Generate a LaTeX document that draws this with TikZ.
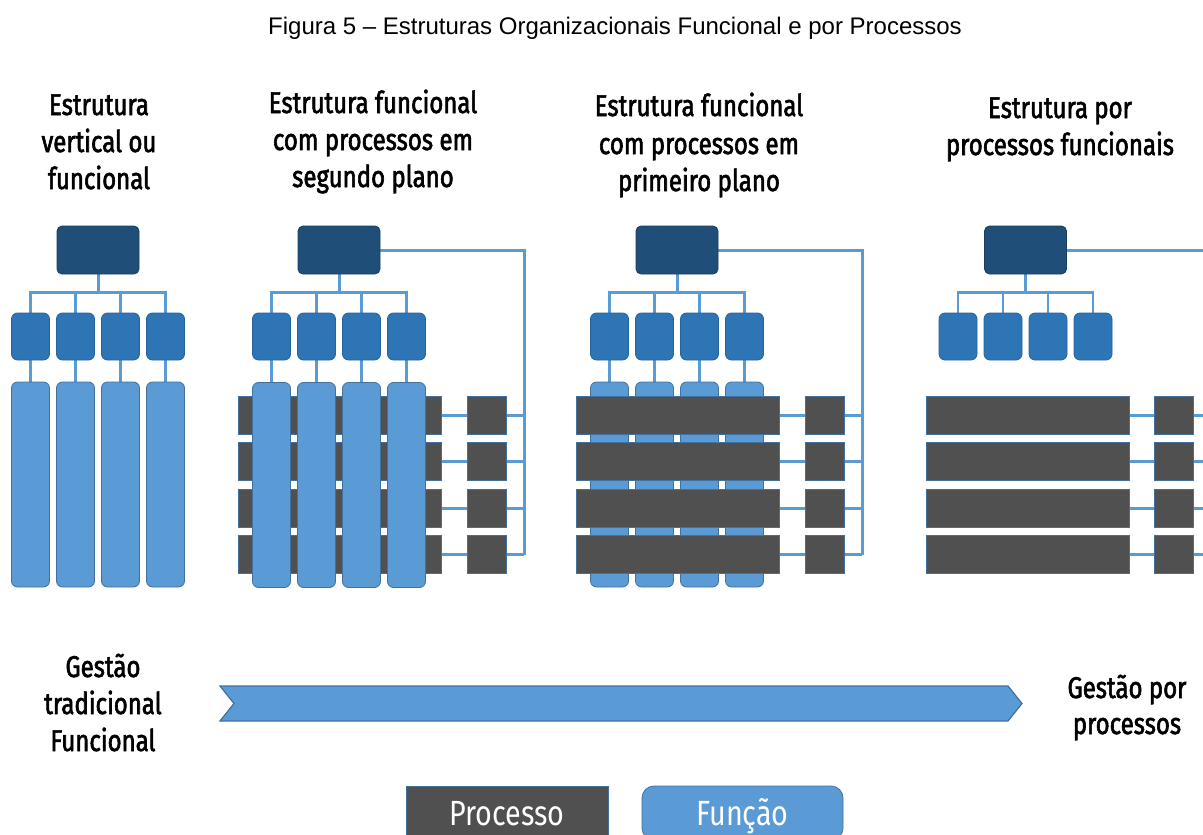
\documentclass[tikz,border=0pt]{standalone}
\usepackage{fontspec}
\setmainfont{Liberation Sans}
\newfontfamily\headfont{Fira Sans}[FakeStretch=0.8,FakeBold=2]
\newfontfamily\legfont{Fira Sans}[FakeStretch=0.82]
\usetikzlibrary{calc}
\pgfdeclarelayer{bg}
\pgfsetlayers{bg,main}

\definecolor{topc}{HTML}{1F4E79}
\definecolor{midc}{HTML}{2E75B6}
\definecolor{colc}{HTML}{5B9BD5}
\definecolor{barc}{HTML}{505050}
\definecolor{edgec}{HTML}{41719C}
\definecolor{linec}{HTML}{5B9BD5}

\tikzset{
  box/.style={inner sep=0pt, outer sep=0pt, line width=0.8pt},
  topbox/.style={box, fill=topc, draw=topc!80!black, rounded corners=5pt,
    minimum width=82pt, minimum height=48pt},
  midbox/.style={box, fill=midc, draw=midc!85!black, rounded corners=6pt,
    minimum width=38pt, minimum height=47pt},
  colbox/.style={box, fill=colc, draw=edgec, rounded corners=6pt,
    minimum width=38pt, minimum height=205pt},
  barbox/.style={box, fill=barc, draw=edgec, minimum width=203pt, minimum height=38pt},
  sbox/.style={box, fill=barc, draw=edgec, minimum width=39pt, minimum height=38pt},
  conn/.style={draw=linec, line width=3pt},
  thinconn/.style={draw=linec, line width=2.4pt},
  head/.style={inner sep=0pt, anchor=base, font=\headfont\fontsize{30}{36}\selectfont},
  legtext/.style={text=white, font=\legfont\fontsize{35}{40}\selectfont,
    text height=24pt, text depth=0pt},
}

\begin{document}
\begin{tikzpicture}[x=1pt,y=-1pt]
\useasboundingbox (0,0) rectangle (1203,835);
\clip (0,0) rectangle (1203,835);

% caption
\node[inner sep=0pt, font=\fontsize{24}{28}\selectfont] (cap) at (615,28)
  {Figura 5 – Estruturas Organizacionais Funcional e por Processos};

% headings
\node[head] (h1a) at (99,115) {Estrutura};
\node[head] (h1b) at (99,152) {vertical ou};
\node[head] (h1c) at (99,189) {funcional};
\node[head] (h2a) at (373,113) {Estrutura funcional};
\node[head] (h2b) at (373,150) {com processos em};
\node[head] (h2c) at (373,187) {segundo plano};
\node[head] (h3a) at (699,116) {Estrutura funcional};
\node[head] (h3b) at (699,154) {com processos em};
\node[head] (h3c) at (699,191) {primeiro plano};
\node[head] (h4a) at (1060,118) {Estrutura por};
\node[head] (h4b) at (1060,155) {processos funcionais};

% top and middle boxes of the four charts
\foreach \p/\X in {1/98,2/339,3/677,4/1025.5} {
  \node[topbox] (t\p) at (\X,250) {};
  \foreach \k/\dx in {1/-67.5,2/-22.5,3/22.5,4/67.5}
    \node[midbox] (m\p\k) at (\X+\dx,336.5) {};
}

% chart 1: functions only
\foreach \k/\dx in {1/-67.5,2/-22.5,3/22.5,4/67.5}
  \node[colbox] (c1\k) at (98+\dx,484.5) {};

% chart 2: processes behind functions
\foreach \r/\Y in {1/415,2/461.5,3/508,4/554.5} {
  \node[barbox] (b2\r) at (340,\Y) {};
  \node[sbox] (s2\r) at (487,\Y) {};
}
\foreach \k/\dx in {1/-67.5,2/-22.5,3/22.5,4/67.5}
  \node[colbox] (c2\k) at (339+\dx,485) {};

% chart 3: processes in front of functions
\foreach \k/\dx in {1/-67.5,2/-22.5,3/22.5,4/67.5}
  \node[colbox] (c3\k) at (677+\dx,484.5) {};
\foreach \r/\Y in {1/415,2/461.5,3/508,4/554.5} {
  \node[barbox] (b3\r) at (678,\Y) {};
  \node[sbox] (s3\r) at (825,\Y) {};
}

% chart 4: processes only
\foreach \r/\Y in {1/415,2/461.5,3/508,4/554.5} {
  \node[barbox] (b4\r) at (1027.5,\Y) {};
  \node[sbox] (s4\r) at (1173.5,\Y) {};
}

% connectors
\begin{pgfonlayer}{bg}
\foreach \p in {1,2,3,4} {
  \draw[conn] (t\p.south) -- ++(0,18) coordinate (bus\p);
  \draw[conn] ([xshift=-1.2pt]m\p1.north |- bus\p) -- ([xshift=1.2pt]m\p4.north |- bus\p);
  \foreach \k in {1,2,3,4}
    \draw[thinconn] (m\p\k.north) -- (m\p\k.north |- bus\p);
}
\foreach \p in {1,2,3}
  \foreach \k in {1,2,3,4}
    \draw[thinconn] (m\p\k.south) -- (c\p\k.north);
\foreach \p in {2,3} {
  \draw[conn] (t\p.east) -- ++(144,0) coordinate (v\p) -- (v\p |- s\p4.east);
  \foreach \r in {1,2,3,4} {
    \draw[conn] (b\p\r.east) -- (s\p\r.west);
    \draw[conn] (s\p\r.east) -- (v\p |- s\p\r.east);
  }
}
\draw[conn] (t4.east) -- ++(160,0) coordinate (v4);
\foreach \r in {1,2,3,4} {
  \draw[conn] (b4\r.east) -- (s4\r.west);
  \draw[conn] (s4\r.east) -- ++(30,0);
}
\end{pgfonlayer}

% bottom labels and arrow
\node[head] (g1) at (103,677) {Gestão};
\node[head] (g2) at (103,714) {tradicional};
\node[head] (g3) at (103,751) {Funcional};
\node[head] (g4) at (1127,698) {Gestão por};
\node[head] (g5) at (1127,734) {processos};
\draw[fill=colc, draw=edgec, line width=1.2pt]
  (220,686) -- (1008,686) -- (1022,703.5) -- (1008,721) -- (220,721) -- (234,703.5) -- cycle;

% legend
\node[box, fill=barc, draw=edgec, minimum width=202pt, minimum height=54pt, legtext]
  (lp) at (507,813) {Processo};
\node[box, fill=colc, draw=edgec, rounded corners=12pt, minimum width=201pt,
  minimum height=54pt, legtext] (lf) at (742.5,813) {Função};
\end{tikzpicture}
\end{document}
